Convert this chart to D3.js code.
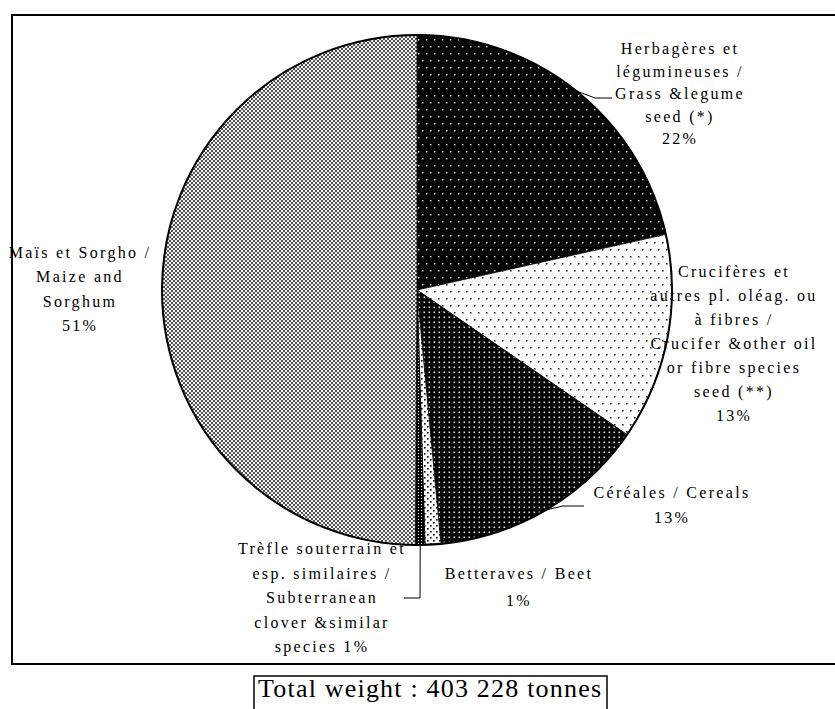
<!DOCTYPE html>
<html><head><meta charset="utf-8">
<script src="https://cdnjs.cloudflare.com/ajax/libs/d3/7.8.5/d3.min.js"></script>
<style>body{margin:0;background:#fff;} svg{display:block;} text{font-family:'Liberation Serif','Times New Roman',serif;}</style>
</head><body>
<svg id="c" width="835" height="709"></svg>
<script>
// ---- data ----
const categories = ["Herbagères et légumineuses", "Crucifères et autres pl. oléag.", "Céréales", "Betteraves", "Trèfle souterrain", "Maïs et Sorgho"];
const shares = [21.5, 13.1, 13.9, 1.0, 0.6, 49.9];
const pctLabels = ["22%", "13%", "13%", "1%", "1%", "51%"];
const labelLines = [
  ["Herbagères et", "légumineuses /", "Grass &legume", "seed (*)", "22%"],
  ["Crucifères et", "autres pl. oléag. ou", "à fibres /", "Crucifer &other oil", "or fibre species", "seed (**)", "13%"],
  ["Céréales / Cereals", "13%"],
  ["Betteraves / Beet", "1%"],
  ["Trèfle souterrain et", "esp. similaires /", "Subterranean", "clover &similar", "species 1%"],
  ["Maïs et Sorgho /", "Maize and", "Sorghum", "51%"]
];
const totalText = "Total weight : 403 228 tonnes";

// ---- layout ----
const svg = d3.select("#c");
const cx = 417, cy = 290, R = 255;
const patterns = ["pHerb", "pCruc", "pCer", "pBet", "pTre", "pMais"];
const labelPos = [ // [centre x, first baseline, line step]
  [680, 54, 22.5], [734, 277, 24], [672, 498, 25], [519, 579, 27], [322, 554, 24.5], [80, 258, 24.3]
];
const leaderEnds = [[[595, 98], [612, 98]], null, [[563, 506], [584, 506]], null, [[420, 598], [404, 598]], null];

const defs = svg.append("defs");
function pat(id, w, h, bg, draw) {
  const p = defs.append("pattern").attr("id", id).attr("patternUnits", "userSpaceOnUse")
    .attr("width", w).attr("height", h);
  p.append("rect").attr("width", w).attr("height", h).attr("fill", bg);
  draw(p);
}
pat("pHerb", 8, 14, "#000", p => {
  p.append("rect").attr("x", 1).attr("y", 1).attr("width", 1.4).attr("height", 1.4).attr("fill", "#fff");
  p.append("rect").attr("x", 5).attr("y", 8).attr("width", 1.4).attr("height", 1.4).attr("fill", "#fff");
});
pat("pCruc", 8, 14, "#fff", p => {
  p.append("rect").attr("x", 1).attr("y", 1).attr("width", 1.5).attr("height", 1.5).attr("fill", "#000");
  p.append("rect").attr("x", 5).attr("y", 8).attr("width", 1.5).attr("height", 1.5).attr("fill", "#000");
});
pat("pCer", 5, 5, "#000", p => {
  p.append("rect").attr("x", 1.5).attr("y", 1.5).attr("width", 1.6).attr("height", 1.6).attr("fill", "#e0e0e0");
});
pat("pBet", 6, 6, "#fff", p => {
  p.append("rect").attr("x", 1).attr("y", 1).attr("width", 1.6).attr("height", 1.6).attr("fill", "#000");
  p.append("rect").attr("x", 4).attr("y", 4).attr("width", 1.6).attr("height", 1.6).attr("fill", "#000");
});
pat("pTre", 3, 3, "#000", p => {
  p.append("rect").attr("x", 1).attr("y", 1).attr("width", 1).attr("height", 1).attr("fill", "#fff");
});
pat("pMais", 4, 4, "#555", p => {
  p.append("rect").attr("x", 0).attr("y", 0).attr("width", 2).attr("height", 2).attr("fill", "#eee");
  p.append("rect").attr("x", 2).attr("y", 2).attr("width", 2).attr("height", 2).attr("fill", "#eee");
  p.append("rect").attr("x", 0.5).attr("y", 0.5).attr("width", 1).attr("height", 1).attr("fill", "#fff");
});

// frame
svg.append("rect").attr("x", 12).attr("y", 15).attr("width", 840).attr("height", 649)
  .attr("fill", "none").attr("stroke", "#000").attr("stroke-width", 2);

const pie = d3.pie().sort(null).value(d => d).startAngle(0).endAngle(2 * Math.PI);
const arcs = pie(shares);
const arc = d3.arc().innerRadius(0).outerRadius(R);
const g = svg.append("g").attr("transform", `translate(${cx},${cy})`);
g.selectAll("path.slice").data(arcs).enter().append("path")
  .attr("class", "slice")
  .attr("d", arc)
  .attr("fill", (d, i) => `url(#${patterns[i]})`)
  .attr("stroke", "#000").attr("stroke-width", 0.8);
g.append("circle").attr("r", R).attr("fill", "none").attr("stroke", "#000").attr("stroke-width", 2);

// leader lines
arcs.forEach((d, i) => {
  if (!leaderEnds[i]) return;
  const a = (d.startAngle + d.endAngle) / 2;
  const p0 = [cx + R * Math.sin(a), cy - R * Math.cos(a)];
  svg.append("polyline").attr("points", [p0, ...leaderEnds[i]].map(p => p.join(",")).join(" "))
    .attr("fill", "none").attr("stroke", "#000").attr("stroke-width", 1);
});

// labels
labelLines.forEach((lines, i) => {
  const [x, y0, step] = labelPos[i];
  const t = svg.append("text").attr("text-anchor", "middle")
    .attr("font-size", 16).attr("letter-spacing", 2.3).attr("fill", "#000");
  lines.forEach((ln, k) => {
    t.append("tspan").attr("x", x).attr("y", y0 + k * step).text(ln);
  });
});

// total box
svg.append("rect").attr("x", 254).attr("y", 676).attr("width", 353).attr("height", 50)
  .attr("fill", "none").attr("stroke", "#000").attr("stroke-width", 1.5);
svg.append("text").attr("x", 258).attr("y", 697)
  .attr("font-size", 26).attr("letter-spacing", 1.2).attr("fill", "#000").text(totalText);
</script>
</body></html>
